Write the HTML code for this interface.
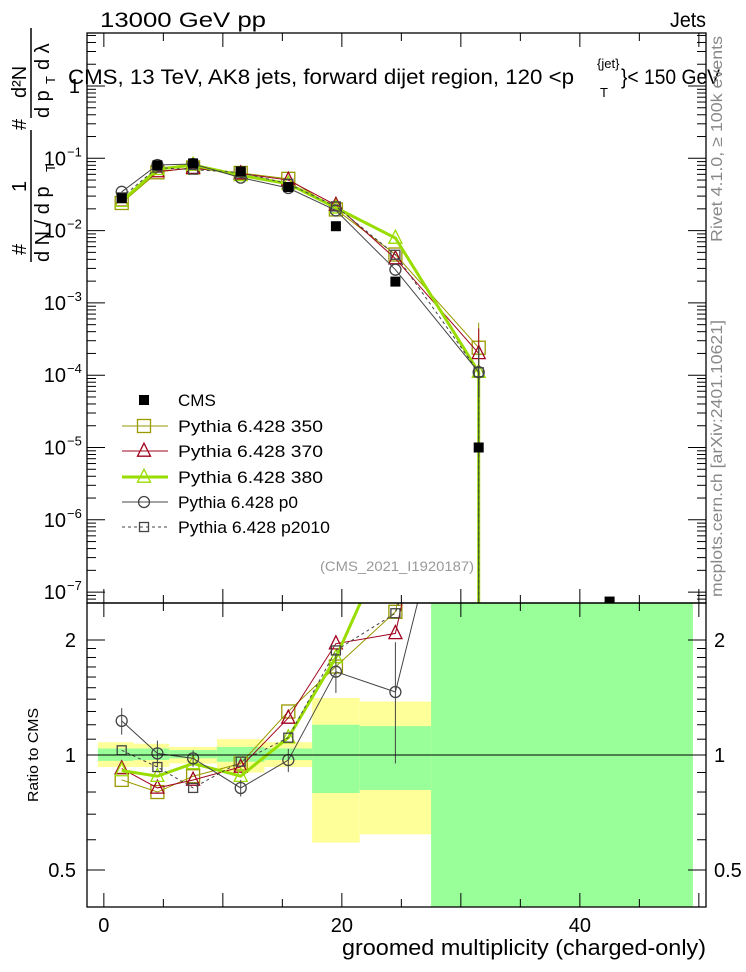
<!DOCTYPE html>
<html><head><meta charset="utf-8">
<style>
html,body{margin:0;padding:0;background:#fff;}
svg{display:block;font-family:"Liberation Sans",sans-serif;}
</style></head>
<body>
<svg id="chart" width="746" height="972" viewBox="0 0 746 972" xmlns="http://www.w3.org/2000/svg">
<defs>
<clipPath id="cm"><rect x="87" y="33" width="619" height="570"/></clipPath>
<clipPath id="cr"><rect x="87" y="603" width="619" height="304"/></clipPath>
</defs>
<g id="bands" clip-path="url(#cr)"></g>
<g id="grid"></g>
<text x="100" y="27" font-size="21" textLength="166" lengthAdjust="spacingAndGlyphs">13000 GeV pp</text>
<text x="670" y="27" font-size="21" textLength="36" lengthAdjust="spacingAndGlyphs">Jets</text>
<g font-size="21">
<text x="68" y="84" textLength="506" lengthAdjust="spacingAndGlyphs">CMS, 13 TeV, AK8 jets, forward dijet region, 120 &lt;p</text>
<text x="597" y="68" font-size="13">{jet}</text>
<text x="600" y="97" font-size="13">T</text>
<text x="621" y="84" textLength="99" lengthAdjust="spacingAndGlyphs">}&lt; 150 GeV</text>
</g>
<g font-size="20">
<text transform="translate(26,255) rotate(-90)">#</text>
<text transform="translate(26,192) rotate(-90)">1</text>
<line x1="31" y1="262" x2="31" y2="130" stroke="#000" stroke-width="1.5"/>
<text transform="translate(49,262) rotate(-90)">d N / d p</text>
<text transform="translate(55,172) rotate(-90)" font-size="13">T</text>
<text transform="translate(26,130) rotate(-90)">#</text>
<text transform="translate(26,98) rotate(-90)">d²N</text>
<line x1="31" y1="118" x2="31" y2="28" stroke="#000" stroke-width="1.5"/>
<text transform="translate(49,118) rotate(-90)">d p</text>
<text transform="translate(55,84) rotate(-90)" font-size="13">T</text>
<text transform="translate(49,70) rotate(-90)">d λ</text>
</g>
<text transform="translate(38,802) rotate(-90)" font-size="15" textLength="94" lengthAdjust="spacingAndGlyphs">Ratio to CMS</text>
<text x="342" y="955" font-size="22" textLength="364" lengthAdjust="spacingAndGlyphs">groomed multiplicity (charged-only)</text>
<text transform="translate(722,242) rotate(-90)" font-size="16" fill="#888" textLength="206" lengthAdjust="spacingAndGlyphs">Rivet 4.1.0, ≥ 100k events</text>
<text transform="translate(722,597) rotate(-90)" font-size="16" fill="#888" textLength="277" lengthAdjust="spacingAndGlyphs">mcplots.cern.ch [arXiv:2401.10621]</text>
<text x="320" y="571" font-size="14" fill="#999" textLength="154" lengthAdjust="spacingAndGlyphs">(CMS_2021_I1920187)</text>
<g id="main" clip-path="url(#cm)"></g>
<g id="ratio" clip-path="url(#cr)"></g>
<line x1="87" y1="755" x2="706" y2="755" stroke="#000" stroke-width="1"/>
<rect x="87" y="33" width="619" height="570" fill="none" stroke="#000" stroke-width="1.3"/>
<rect x="87" y="603" width="619" height="304" fill="none" stroke="#000" stroke-width="1.3"/>
<g id="legend" font-size="17"></g>
</svg>
<script>
// ---- data ----
const binCenters = [1.5, 4.5, 7.5, 11.5, 15.5, 19.5, 24.5, 31.5, 42.5];
const cmsValues = [0.028, 0.080, 0.085, 0.066, 0.040, 0.0115, 0.00197, 1.0e-5, 7.4e-8];
const py350 = [0.0241, 0.064, 0.0748, 0.0627, 0.052, 0.0196, 0.00467, 2.4e-4];
const py370 = [0.0258, 0.0656, 0.0731, 0.0614, 0.050, 0.0225, 0.0041, 2.0e-4];
const py380 = [0.0255, 0.0704, 0.0808, 0.0581, 0.0444, 0.0207, 0.0079, 1.1e-4];
const pyP0 = [0.0344, 0.0808, 0.0833, 0.0541, 0.0388, 0.0190, 0.00288, 1.1e-4];
const pyP2010 = [0.0288, 0.0744, 0.0697, 0.0634, 0.0444, 0.0216, 0.00463, 1.1e-4];
const p0RelErr = [0.08, 0.08, 0.05, 0.05, 0.07, 0.12, 0.35, 0.5];
const bandEdges = [-0.5, 2.5, 5.5, 9.5, 13.5, 17.5, 21.5, 27.5, 49.5];
const yellowLo = [0.93, 0.93, 0.95, 0.90, 0.93, 0.59, 0.62, 0.3];
const yellowHi = [1.08, 1.07, 1.05, 1.10, 1.08, 1.41, 1.38, 3];
const greenLo = [0.965, 0.97, 0.98, 0.96, 0.97, 0.795, 0.81, 0.3];
const greenHi = [1.04, 1.04, 1.03, 1.05, 1.04, 1.20, 1.19, 3];
const xTickLabels = [0, 20, 40];
const mainTickLabels = ["1", "10", "10", "10", "10", "10", "10", "10"];

// ---- axes ----
const xs = v => 86 + (v + 1.5) * 11.9;
const ym = v => 86 - 72.3 * Math.log10(v);
const yr = r => 755 - 115 * Math.log2(r);
const NS = "http://www.w3.org/2000/svg";
function mk(parent, tag, attrs) {
  const e = document.createElementNS(NS, tag);
  for (const k in attrs) e.setAttribute(k, attrs[k]);
  parent.appendChild(e);
  return e;
}
const svg = document.getElementById('chart');
const grid = document.getElementById('grid');

const bands = document.getElementById('bands');
for (let i = 0; i < bandEdges.length - 1; i++) {
  const x0 = xs(bandEdges[i]), x1 = xs(bandEdges[i + 1]);
  const yb = mk(bands, 'rect', {x: x0, y: yr(yellowHi[i]), width: x1 - x0, height: yr(yellowLo[i]) - yr(yellowHi[i]), fill: '#ffff99'});
  
  
  const gb = mk(bands, 'rect', {x: x0, y: yr(greenHi[i]), width: x1 - x0, height: yr(greenLo[i]) - yr(greenHi[i]), fill: '#99ff99'});
  
  
}

for (let v = 0; v <= 50; v += 5) {
  const major = v % 10 === 0;
  const L = major ? 14 : 8;
  for (const [yb, yt] of [[907, 603], [603, 33]]) {
    mk(grid, 'line', {x1: xs(v), x2: xs(v), y1: yb, y2: yb - L, stroke: '#000'});
    mk(grid, 'line', {x1: xs(v), x2: xs(v), y1: yt, y2: yt + L, stroke: '#000'});
  }
}
xTickLabels.forEach(v => {
  const t = mk(svg, 'text', {x: xs(v), y: 932, 'font-size': 20, 'text-anchor': 'middle'});
  t.textContent = v;
  
  
});
for (let d = 0; d >= -7; d--) {
  const y = ym(Math.pow(10, d));
  mk(grid, 'line', {x1: 87, x2: 105, y1: y, y2: y, stroke: '#000'});
  mk(grid, 'line', {x1: 706, x2: 688, y1: y, y2: y, stroke: '#000'});
  const t = mk(svg, 'text', {x: d === 0 ? 80 : 66, y: y + 7, 'font-size': 20, 'text-anchor': 'end'});
  t.textContent = mainTickLabels[-d];
  
  
  if (d < 0) {
    const s = mk(svg, 'text', {x: 67, y: y - 2, 'font-size': 13});
    s.textContent = '−' + (-d);
    
    
  }
  for (let m = 2; m <= 9; m++) {
    const ym2 = ym(m * Math.pow(10, d - 1));
    if (ym2 > 603 || ym2 < 33) continue;
    mk(grid, 'line', {x1: 87, x2: 96, y1: ym2, y2: ym2, stroke: '#000'});
    mk(grid, 'line', {x1: 706, x2: 697, y1: ym2, y2: ym2, stroke: '#000'});
  }
}
[2, 3, 4, 5].forEach(m => {
  const y = ym(m);
  if (y > 33) { mk(grid, 'line', {x1: 87, x2: 96, y1: y, y2: y, stroke: '#000'}); mk(grid, 'line', {x1: 706, x2: 697, y1: y, y2: y, stroke: '#000'}); }
});
const rt = [0.4,0.5,0.6,0.7,0.8,0.9,1,1.1,1.2,1.3,1.4,1.5,1.6,1.7,1.8,1.9,2,2.5];
rt.forEach(r => {
  const major = (r === 0.5 || r === 1 || r === 2);
  const L = major ? 18 : 9;
  const y = yr(r);
  if (y < 603 || y > 907) return;
  mk(grid, 'line', {x1: 87, x2: 87 + L, y1: y, y2: y, stroke: '#000'});
  mk(grid, 'line', {x1: 706, x2: 706 - L, y1: y, y2: y, stroke: '#000'});
  if (major) {
    const a = mk(svg, 'text', {x: 76, y: y + 7, 'font-size': 20, 'text-anchor': 'end'});
    a.textContent = r;
    
    
    const b = mk(svg, 'text', {x: 714, y: y + 7, 'font-size': 20});
    b.textContent = r;
    
    
  }
});

function marker(g, type, x, y, color, s) {
  if (type === 'square') return mk(g, 'rect', {x: x - s/2, y: y - s/2, width: s, height: s, fill: 'none', stroke: color, 'stroke-width': 1.3});
  if (type === 'fsquare') return mk(g, 'rect', {x: x - s/2, y: y - s/2, width: s, height: s, fill: color});
  if (type === 'tri') return mk(g, 'polygon', {points: `${x},${y - s*0.6} ${x - s/2},${y + s*0.4} ${x + s/2},${y + s*0.4}`, fill: 'none', stroke: color, 'stroke-width': 1.3});
  if (type === 'circle') return mk(g, 'circle', {cx: x, cy: y, r: s/2, fill: 'none', stroke: color, 'stroke-width': 1.3});
}
const series = [
  {name: 'Pythia 6.428 350', vals: py350, color: '#999900', w: 1, dash: '', m: 'square', s: 13},
  {name: 'Pythia 6.428 370', vals: py370, color: '#a0001e', w: 1, dash: '', m: 'tri', s: 13},
  {name: 'Pythia 6.428 380', vals: py380, color: '#99dd00', w: 3, dash: '', m: 'tri', s: 13},
  {name: 'Pythia 6.428 p0', vals: pyP0, color: '#444444', w: 1, dash: '', m: 'circle', s: 11},
  {name: 'Pythia 6.428 p2010', vals: pyP2010, color: '#444444', w: 1, dash: '3,3', m: 'square', s: 9}
];
const main = document.getElementById('main');
const ratio = document.getElementById('ratio');
series.forEach(sr => {
  const gm = mk(main, 'g', {});
  
  
  const pts = sr.vals.map((v, i) => [xs(binCenters[i]), ym(v)]);
  const last = pts[pts.length - 1];
  mk(gm, 'polyline', {points: pts.map(p => p.join(',')).join(' ') + ` ${last[0]},620`, fill: 'none', stroke: sr.color, 'stroke-width': sr.w, 'stroke-dasharray': sr.dash});
  pts.forEach(p => {
    const mm = marker(gm, sr.m, p[0], p[1], sr.color, sr.s);
    
    
  });
  mk(gm, 'line', {x1: last[0], x2: last[0], y1: last[1] - 25, y2: last[1] + 25, stroke: sr.color});
  const gr = mk(ratio, 'g', {});
  
  
  const rp = sr.vals.map((v, i) => [xs(binCenters[i]), yr(v / cmsValues[i])]);
  mk(gr, 'polyline', {points: rp.map(p => p.join(',')).join(' '), fill: 'none', stroke: sr.color, 'stroke-width': sr.w, 'stroke-dasharray': sr.dash});
  rp.forEach((p, i) => {
    if (sr.name.endsWith('p0')) {
      const r = sr.vals[i] / cmsValues[i];
      mk(gr, 'line', {x1: p[0], x2: p[0], y1: yr(r * (1 + p0RelErr[i])), y2: yr(r * (1 - p0RelErr[i])), stroke: sr.color});
    }
    const mm = marker(gr, sr.m, p[0], p[1], sr.color, sr.s);
    
    
  });
});
const gc = mk(main, 'g', {});


cmsValues.forEach((v, i) => {
  const mm = marker(gc, 'fsquare', xs(binCenters[i]), ym(v), '#000', 10);
  
  
});

const lg = document.getElementById('legend');
const lrows = [400, 426, 451, 477, 502, 527];
const cm = marker(lg, 'fsquare', 144, lrows[0], '#000', 10);


const ct = mk(lg, 'text', {x: 178, y: lrows[0] + 6});
ct.textContent = 'CMS';


const legendWidths = [145, 145, 145, 120, 152];
series.forEach((sr, i) => {
  const y = lrows[i + 1];
  mk(lg, 'line', {x1: 122, x2: 168, y1: y, y2: y, stroke: sr.color, 'stroke-width': sr.w, 'stroke-dasharray': sr.dash});
  marker(lg, sr.m, 144, y, sr.color, sr.s);
  const t = mk(lg, 'text', {x: 178, y: y + 6, textLength: legendWidths[i], lengthAdjust: 'spacingAndGlyphs'});
  t.textContent = sr.name;
  
  
});
</script>
</body></html>
